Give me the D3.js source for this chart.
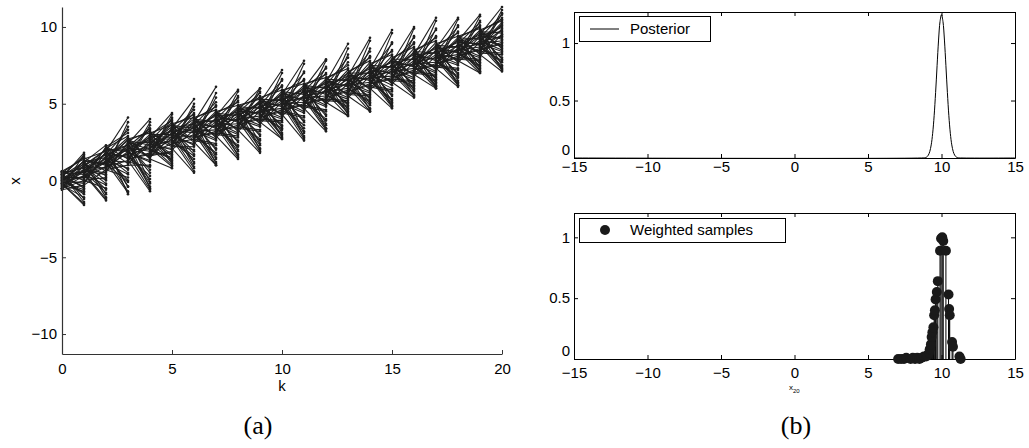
<!DOCTYPE html>
<html><head><meta charset="utf-8">
<script src="https://cdn.jsdelivr.net/npm/d3@7"></script>
<style>
body{margin:0;background:#fff}
svg{display:block}
text{font-family:"Liberation Sans",Arial,Helvetica,sans-serif;fill:#000}
</style>
</head><body>
<svg id="c" width="1029" height="448"></svg>
<script>
// ---------- Panel (a): particle trajectories ----------
const kTicks = [0, 5, 10, 15, 20];
const xTicksA = [-10, -5, 0, 5, 10];
// step s goes from k = s-1 to k = s  (s = 1..20)
const stepK = [1,2,3,4,5,6,7,8,9,10,11,12,13,14,15,16,17,18,19,20];
const startVals = [
 [0.2,0.5,-0.1,0.3,0.0,-0.3,0.4,0.1,-0.4,0.6,-0.2,0.2,-0.5,0.0,0.3,-0.1,0.1,-0.3,0.4,-0.2],
 [1.2,0.4,0.9,-0.2,0.6,1.0,0.1,0.8,0.3,1.3,0.5,-0.3,0.7,1.1,0.2,0.9,0.0,0.6,1.2,0.4],
 [1.9,1.0,2.2,1.5,0.6,1.7,1.2,2.0,0.8,1.4,1.8,0.9,2.1,1.3,1.6,0.7,1.1,1.9,1.5,2.3],
 [2.4,1.2,2.0,2.7,1.5,1.9,2.2,1.1,2.6,1.7,2.1,1.4,2.5,1.8,1.0,2.3,1.6,2.8,2.0,1.3],
 [2.8,1.6,2.3,3.1,1.9,2.5,2.1,3.0,1.5,2.7,2.2,1.8,2.9,2.4,1.7,2.6,2.0,3.2,2.3,1.4],
 [3.4,2.2,2.9,3.7,2.5,3.1,2.7,3.6,2.0,3.3,2.8,2.4,3.5,3.0,2.3,3.2,2.6,3.8,2.9,2.1],
 [3.8,2.6,3.3,4.1,2.9,3.5,3.1,4.0,2.4,3.7,3.2,2.8,3.9,3.4,2.7,3.6,3.0,4.2,3.3,2.5],
 [4.2,3.0,3.7,4.5,3.3,3.9,3.5,4.4,2.8,4.1,3.6,3.2,4.3,3.8,3.1,4.0,3.4,4.6,3.7,2.9],
 [4.6,3.4,4.1,4.9,3.7,4.3,3.9,4.8,3.2,4.5,4.0,3.6,4.7,4.2,3.5,4.4,3.8,5.0,4.1,3.3],
 [5.1,3.9,4.6,5.4,4.2,4.8,4.4,5.3,3.7,5.0,4.5,4.1,5.2,4.7,4.0,4.9,4.3,5.5,4.6,3.8],
 [5.6,4.4,5.1,5.9,4.7,5.3,4.9,5.8,4.2,5.5,5.0,4.6,5.7,5.2,4.5,5.4,4.8,6.0,5.1,4.3],
 [6.0,4.8,5.5,6.3,5.1,5.7,5.3,6.2,4.6,5.9,5.4,5.0,6.1,5.6,4.9,5.8,5.2,6.4,5.5,4.7],
 [6.4,5.2,5.9,6.7,5.5,6.1,5.7,6.6,5.0,6.3,5.8,5.4,6.5,6.0,5.3,6.2,5.6,6.8,5.9,5.1],
 [6.8,5.6,6.3,7.1,5.9,6.5,6.1,7.0,5.4,6.7,6.2,5.8,6.9,6.4,5.7,6.6,6.0,7.2,6.3,5.5],
 [7.3,6.1,6.8,7.6,6.4,7.0,6.6,7.5,5.9,7.2,6.7,6.3,7.4,6.9,6.2,7.1,6.5,7.7,6.8,6.0],
 [7.7,6.5,7.2,8.0,6.8,7.4,7.0,7.9,6.3,7.6,7.1,6.7,7.8,7.3,6.6,7.5,6.9,8.1,7.2,6.4],
 [8.2,7.0,7.7,8.5,7.3,7.9,7.5,8.4,6.8,8.1,7.6,7.2,8.3,7.8,7.1,8.0,7.4,8.6,7.7,6.9],
 [8.6,7.4,8.1,8.9,7.7,8.3,7.9,8.8,7.2,8.5,8.0,7.6,8.7,8.2,7.5,8.4,7.8,9.0,8.1,7.3],
 [9.1,7.9,8.6,9.4,8.2,8.8,8.4,9.3,7.7,9.0,8.5,8.1,9.2,8.7,8.0,8.9,8.3,9.5,8.6,7.8],
 [9.5,8.3,9.0,9.8,8.6,9.2,8.8,9.7,8.1,9.4,8.9,8.5,9.6,9.1,8.4,9.3,8.7,9.9,9.0,8.2]
];
const endVals = [
 [1.8,1.5,1.3,1.2,1.1,1.0,0.9,0.7,0.6,0.5,0.3,0.2,0.0,-0.2,-0.4,-0.6,-0.8,-1.1,-1.4,-1.6],
 [2.3,2.1,2.0,1.9,1.8,1.7,1.5,1.4,1.2,1.1,0.9,0.7,0.5,0.3,0.1,-0.2,-0.5,-0.8,-1.1,-1.3],
 [4.1,3.5,3.1,2.8,2.5,2.3,2.2,2.0,1.9,1.7,1.5,1.3,1.1,0.8,0.5,0.2,-0.1,-0.4,-0.7,-0.9],
 [4.0,3.6,3.3,3.1,2.9,2.7,2.6,2.4,2.3,2.1,1.9,1.7,1.5,1.3,1.0,0.7,0.3,-0.1,-0.4,-0.7],
 [4.4,4.1,3.8,3.6,3.4,3.3,3.1,3.0,2.9,2.7,2.6,2.4,2.2,2.0,1.8,1.6,1.4,1.2,1.0,0.8],
 [5.3,4.8,4.4,4.1,3.9,3.7,3.6,3.4,3.3,3.1,2.9,2.7,2.5,2.3,2.0,1.7,1.4,1.1,0.8,0.5],
 [6.1,5.4,4.9,4.6,4.4,4.2,4.0,3.8,3.7,3.5,3.3,3.1,2.9,2.7,2.4,2.1,1.8,1.5,1.2,1.0],
 [5.9,5.5,5.2,4.9,4.7,4.5,4.4,4.2,4.1,3.9,3.7,3.5,3.3,3.1,2.9,2.6,2.3,2.0,1.7,1.4],
 [6.0,5.8,5.5,5.3,5.1,5.0,4.8,4.7,4.5,4.4,4.2,4.0,3.8,3.6,3.3,3.0,2.7,2.4,2.1,1.8],
 [7.2,6.6,6.2,5.9,5.7,5.5,5.4,5.2,5.1,4.9,4.7,4.5,4.3,4.1,3.9,3.6,3.4,3.1,2.9,2.7],
 [7.8,7.1,6.6,6.3,6.1,5.9,5.8,5.6,5.5,5.3,5.1,4.9,4.7,4.5,4.2,3.9,3.6,3.2,2.9,2.6],
 [7.9,7.4,7.0,6.7,6.5,6.3,6.1,6.0,5.9,5.7,5.5,5.3,5.1,4.9,4.6,4.3,4.0,3.7,3.4,3.2],
 [8.9,8.2,7.7,7.3,7.0,6.8,6.6,6.5,6.3,6.2,6.0,5.8,5.6,5.4,5.2,5.0,4.8,4.6,4.4,4.2],
 [9.3,8.6,8.1,7.8,7.5,7.3,7.1,7.0,6.8,6.6,6.4,6.2,6.0,5.8,5.6,5.4,5.2,5.0,4.7,4.5],
 [9.8,9.0,8.5,8.2,7.9,7.7,7.5,7.4,7.2,7.0,6.8,6.6,6.4,6.2,5.9,5.6,5.3,5.1,4.9,4.7],
 [10.0,9.4,9.0,8.7,8.4,8.2,8.0,7.9,7.7,7.5,7.3,7.1,6.9,6.7,6.5,6.3,6.1,5.9,5.6,5.4],
 [10.6,9.9,9.4,9.1,8.8,8.6,8.4,8.3,8.1,7.9,7.7,7.5,7.3,7.1,6.9,6.7,6.5,6.3,6.1,6.0],
 [10.6,10.1,9.7,9.4,9.2,9.0,8.8,8.7,8.6,8.4,8.2,8.0,7.8,7.6,7.3,7.0,6.8,6.5,6.3,6.1],
 [10.8,10.4,10.1,9.9,9.7,9.5,9.4,9.2,9.0,8.9,8.7,8.5,8.3,8.1,7.9,7.7,7.5,7.3,7.1,7.0],
 [11.3,10.9,10.6,10.4,10.2,10.0,9.8,9.6,9.5,9.3,9.1,8.9,8.7,8.5,8.3,8.0,7.8,7.5,7.3,7.1]
];
const startVals2 = [
 [-0.5,0.3,0.6,-0.2,0.1,-0.6,0.5,-0.4,0.0,0.5,-0.5,0.2,0.6,-0.1,-0.6,0.4,-0.3,0.1,0.5,-0.2],
 [0.1,1.0,1.4,0.5,0.8,-0.1,1.2,0.3,0.7,1.3,0.2,0.9,1.5,0.6,0.0,1.1,0.4,0.8,1.3,0.5],
 [0.8,1.7,2.1,1.2,1.5,0.6,1.9,1.0,1.4,2.0,0.9,1.6,2.2,1.3,0.7,1.8,1.1,1.5,2.0,1.2],
 [1.3,2.2,2.6,1.7,2.0,1.1,2.4,1.5,1.9,2.5,1.4,2.1,2.7,1.8,1.2,2.3,1.6,2.0,2.5,1.7],
 [1.7,2.6,3.0,2.1,2.4,1.5,2.8,1.9,2.3,2.9,1.8,2.5,3.1,2.2,1.6,2.7,2.0,2.4,2.9,2.1],
 [2.3,3.2,3.6,2.7,3.0,2.1,3.4,2.5,2.9,3.5,2.4,3.1,3.7,2.8,2.2,3.3,2.6,3.0,3.5,2.7],
 [2.7,3.6,4.0,3.1,3.4,2.5,3.8,2.9,3.3,3.9,2.8,3.5,4.1,3.2,2.6,3.7,3.0,3.4,3.9,3.1],
 [3.1,4.0,4.4,3.5,3.8,2.9,4.2,3.3,3.7,4.3,3.2,3.9,4.5,3.6,3.0,4.1,3.4,3.8,4.3,3.5],
 [3.5,4.4,4.8,3.9,4.2,3.3,4.6,3.7,4.1,4.7,3.6,4.3,4.9,4.0,3.4,4.5,3.8,4.2,4.7,3.9],
 [4.0,4.9,5.3,4.4,4.7,3.8,5.1,4.2,4.6,5.2,4.1,4.8,5.4,4.5,3.9,5.0,4.3,4.7,5.2,4.4],
 [4.5,5.4,5.8,4.9,5.2,4.3,5.6,4.7,5.1,5.7,4.6,5.3,5.9,5.0,4.4,5.5,4.8,5.2,5.7,4.9],
 [4.9,5.8,6.2,5.3,5.6,4.7,6.0,5.1,5.5,6.1,5.0,5.7,6.3,5.4,4.8,5.9,5.2,5.6,6.1,5.3],
 [5.3,6.2,6.6,5.7,6.0,5.1,6.4,5.5,5.9,6.5,5.4,6.1,6.7,5.8,5.2,6.3,5.6,6.0,6.5,5.7],
 [5.7,6.6,7.0,6.1,6.4,5.5,6.8,5.9,6.3,6.9,5.8,6.5,7.1,6.2,5.6,6.7,6.0,6.4,6.9,6.1],
 [6.2,7.1,7.5,6.6,6.9,6.0,7.3,6.4,6.8,7.4,6.3,7.0,7.6,6.7,6.1,7.2,6.5,6.9,7.4,6.6],
 [6.6,7.5,7.9,7.0,7.3,6.4,7.7,6.8,7.2,7.8,6.7,7.4,8.0,7.1,6.5,7.6,6.9,7.3,7.8,7.0],
 [7.1,8.0,8.4,7.5,7.8,6.9,8.2,7.3,7.7,8.3,7.2,7.9,8.5,7.6,7.0,8.1,7.4,7.8,8.3,7.5],
 [7.5,8.4,8.8,7.9,8.2,7.3,8.6,7.7,8.1,8.7,7.6,8.3,8.9,8.0,7.4,8.5,7.8,8.2,8.7,7.9],
 [8.0,8.9,9.3,8.4,8.7,7.8,9.1,8.2,8.6,9.2,8.1,8.8,9.4,8.5,7.9,9.0,8.3,8.7,9.2,8.4],
 [8.4,9.3,9.7,8.8,9.1,8.2,9.5,8.6,9.0,9.6,8.5,9.2,9.8,8.9,8.3,9.4,8.7,9.1,9.6,8.8]
];
const endVals2 = [
 [1.7,1.6,1.4,1.3,1.1,1.0,0.8,0.7,0.6,0.4,0.3,0.1,0.0,-0.1,-0.3,-0.5,-0.7,-0.9,-1.2,-1.5],
 [2.2,2.0,1.9,1.8,1.7,1.6,1.5,1.3,1.2,1.0,0.9,0.8,0.6,0.4,0.2,0.0,-0.3,-0.6,-0.9,-1.2],
 [3.8,3.3,2.9,2.7,2.6,2.4,2.3,2.1,2.0,1.9,1.8,1.6,1.4,1.2,1.0,0.7,0.4,0.0,-0.4,-0.8],
 [3.8,3.4,3.2,3.0,2.8,2.6,2.5,2.4,2.2,2.0,1.8,1.6,1.4,1.2,0.9,0.5,0.1,-0.2,-0.5,-0.6],
 [4.3,4.0,3.9,3.7,3.5,3.4,3.2,3.1,3.0,2.8,2.7,2.5,2.3,2.1,1.9,1.7,1.5,1.3,1.1,0.9],
 [5.0,4.6,4.3,4.2,4.0,3.8,3.7,3.5,3.4,3.2,3.0,2.8,2.6,2.4,2.2,1.9,1.6,1.2,0.9,0.6],
 [5.7,5.1,4.8,4.5,4.3,4.1,3.9,3.8,3.6,3.4,3.2,3.0,2.8,2.6,2.3,2.0,1.7,1.4,1.1,1.0],
 [5.8,5.4,5.1,4.8,4.6,4.5,4.3,4.2,4.0,3.8,3.6,3.4,3.2,3.0,2.8,2.5,2.2,1.9,1.6,1.5],
 [6.0,5.7,5.4,5.2,5.1,4.9,4.8,4.6,4.5,4.3,4.1,3.9,3.7,3.5,3.2,2.9,2.6,2.3,2.0,1.9],
 [7.0,6.5,6.1,5.8,5.6,5.5,5.3,5.2,5.0,4.8,4.6,4.4,4.2,4.0,3.8,3.5,3.3,3.0,2.8,2.7],
 [7.6,7.0,6.5,6.2,6.0,5.9,5.7,5.5,5.4,5.2,5.0,4.8,4.6,4.4,4.1,3.8,3.4,3.1,2.8,2.7],
 [7.8,7.3,6.9,6.6,6.4,6.2,6.1,5.9,5.8,5.6,5.4,5.2,5.0,4.8,4.5,4.2,3.9,3.6,3.4,3.3],
 [8.6,8.0,7.5,7.2,7.0,6.8,6.6,6.4,6.3,6.1,5.9,5.7,5.5,5.3,5.1,4.9,4.7,4.5,4.3,4.2],
 [9.1,8.4,8.0,7.7,7.4,7.2,7.0,6.9,6.7,6.5,6.3,6.1,5.9,5.7,5.5,5.3,5.1,4.9,4.6,4.5],
 [9.6,8.9,8.4,8.1,7.8,7.6,7.4,7.3,7.1,6.9,6.7,6.5,6.3,6.0,5.8,5.5,5.2,5.0,4.8,4.8],
 [9.9,9.3,8.9,8.6,8.3,8.1,7.9,7.8,7.6,7.4,7.2,7.0,6.8,6.6,6.4,6.2,6.0,5.8,5.5,5.5],
 [10.4,9.8,9.3,9.0,8.7,8.5,8.3,8.2,8.0,7.8,7.6,7.4,7.2,7.0,6.8,6.6,6.4,6.2,6.1,6.0],
 [10.5,10.0,9.6,9.3,9.1,8.9,8.7,8.6,8.5,8.3,8.1,7.9,7.7,7.5,7.2,6.9,6.7,6.4,6.2,6.2],
 [10.7,10.3,10.0,9.8,9.6,9.4,9.3,9.1,8.9,8.8,8.6,8.4,8.2,8.0,7.8,7.6,7.4,7.2,7.1,7.0],
 [11.1,10.8,10.5,10.3,10.1,9.9,9.7,9.5,9.4,9.2,9.0,8.8,8.6,8.4,8.2,7.9,7.7,7.4,7.2,7.2]
];

// ---------- Panel (b): posterior and weighted samples ----------
const xTicksB = [-15, -10, -5, 0, 5, 10, 15];
const yTicksB = [0, 0.5, 1];
const postX = [-15, 8.8, 8.9, 9.0, 9.1, 9.2, 9.3, 9.4, 9.5, 9.6, 9.7, 9.8, 9.9, 10.0, 10.1, 10.2, 10.3, 10.4, 10.5, 10.6, 10.7, 10.8, 10.9, 11.0, 11.1, 11.2, 15];
const postY = [0, 0.001, 0.003, 0.009, 0.024, 0.055, 0.114, 0.215, 0.368, 0.571, 0.803, 1.026, 1.187, 1.247, 1.187, 1.026, 0.803, 0.571, 0.368, 0.215, 0.114, 0.055, 0.024, 0.009, 0.003, 0.001, 0];
const sampleX = [7.05, 7.25, 7.45, 7.6, 7.9, 8.05, 8.2, 8.35, 8.5, 8.65, 8.8, 8.95, 9.05, 9.15, 9.2, 9.28, 9.33, 9.38, 9.45, 9.5, 9.55, 9.6, 9.68, 9.75, 9.9, 9.97, 10.05, 10.12, 10.3, 10.48, 10.52, 10.56, 10.72, 10.78, 11.22, 11.3];
const sampleW = [0.0, 0.0, 0.0, 0.01, 0.0, 0.01, 0.0, 0.01, 0.0, 0.01, 0.02, 0.02, 0.03, 0.05, 0.08, 0.12, 0.18, 0.22, 0.26, 0.36, 0.4, 0.49, 0.55, 0.64, 0.89, 0.99, 1.0, 0.97, 0.89, 0.53, 0.41, 0.36, 0.14, 0.1, 0.02, 0.0];

const svg = d3.select("#c");
const tickFont = "15px";

// ===== Panel (a) =====
const xA = d3.scaleLinear().domain([0, 20]).range([62, 502]);
const yA = d3.scaleLinear().domain([-11.3, 11.3]).range([354, 7]);
const gA = svg.append("g");

const segs = [];
stepK.forEach((k, si) => {
  startVals[si].forEach((s, i) => segs.push({k0: k - 1, k1: k, s: s, e: endVals[si][i]}));
  startVals2[si].forEach((s, i) => segs.push({k0: k - 1, k1: k, s: s, e: endVals2[si][i]}));
});
gA.append("g").selectAll("line").data(segs).join("line")
  .attr("x1", d => xA(d.k0)).attr("y1", d => yA(d.s))
  .attr("x2", d => xA(d.k1)).attr("y2", d => yA(d.e))
  .attr("stroke", "#1e1e1e").attr("stroke-width", 1.1);
gA.append("g").selectAll("circle").data(segs).join("circle")
  .attr("cx", d => xA(d.k1)).attr("cy", d => yA(d.e)).attr("r", 1.3).attr("fill", "#1e1e1e");
gA.append("g").selectAll("circle").data(startVals[0].concat(startVals2[0])).join("circle")
  .attr("cx", xA(0)).attr("cy", d => yA(d)).attr("r", 1.3).attr("fill", "#1e1e1e");

const axA_x = gA.append("g").attr("transform", `translate(0,354)`)
  .call(d3.axisBottom(xA).tickValues(kTicks).tickFormat(d3.format("d")).tickSizeInner(-4).tickSizeOuter(0).tickPadding(9));
const axA_y = gA.append("g").attr("transform", `translate(62,0)`)
  .call(d3.axisLeft(yA).tickValues(xTicksA).tickFormat(d3.format("d")).tickSizeInner(-4).tickSizeOuter(0).tickPadding(5));
[axA_x, axA_y].forEach(a => {
  a.selectAll("path").attr("stroke", "#333").attr("stroke-width", 1.2);
  a.selectAll("line").attr("stroke", "#333");
  a.selectAll("text").attr("font-size", tickFont).attr("font-family", "Liberation Sans, Arial, sans-serif").attr("fill", "#000");
});
gA.append("text").attr("x", xA(10)).attr("y", 391).attr("text-anchor", "middle").attr("font-size", "15px").text("k");
gA.append("text").attr("transform", "translate(20,181) rotate(-90)").attr("text-anchor", "middle").attr("font-size", "15px").text("x");
svg.append("text").attr("x", 258).attr("y", 434).attr("text-anchor", "middle")
  .style("font-family", "'Liberation Serif','Times New Roman',serif").attr("font-size", "26px").text("(a)");

// ===== Panel (b) =====
function boxPanel(top, bottom, yMax, labelPad) {
  const x = d3.scaleLinear().domain([-15, 15]).range([574, 1015]);
  const y = d3.scaleLinear().domain([0, yMax]).range([bottom, top]);
  const g = svg.append("g");
  const axes = [];
  axes.push(g.append("g").attr("transform", `translate(0,${bottom})`)
    .call(d3.axisBottom(x).tickValues(xTicksB).tickFormat(d3.format("d")).tickSizeInner(-4).tickSizeOuter(0).tickPadding(labelPad)));
  axes.push(g.append("g").attr("transform", `translate(0,${top})`)
    .call(d3.axisTop(x).tickValues(xTicksB).tickFormat("").tickSizeInner(-4).tickSizeOuter(0)));
  axes.push(g.append("g").attr("transform", `translate(574,0)`)
    .call(d3.axisLeft(y).tickValues(yTicksB).tickFormat(d => d === 0 ? "0" : d3.format("~g")(d)).tickSizeInner(-4).tickSizeOuter(0).tickPadding(4)));
  axes.push(g.append("g").attr("transform", `translate(1015,0)`)
    .call(d3.axisRight(y).tickValues(yTicksB).tickFormat("").tickSizeInner(-4).tickSizeOuter(0)));
  axes.forEach(a => {
    a.selectAll("path").attr("stroke", "#000").attr("stroke-width", 1);
    a.selectAll("line").attr("stroke", "#000");
    a.selectAll("text").attr("font-size", tickFont).attr("font-family", "Liberation Sans, Arial, sans-serif").attr("fill", "#000");
  });
  // the "0" y label sits just above the corner, as in the reference
  axes[2].selectAll(".tick text").filter(d => d === 0).attr("dy", "-0.22em");
  return {x, y, g};
}

// top: posterior
const P1 = boxPanel(12, 158, 1.27, 3.5);
const postData = postX.map((v, i) => [v, postY[i]]);
P1.g.append("path").datum(postData)
  .attr("d", d3.line().x(d => P1.x(d[0])).y(d => P1.y(d[1])).curve(d3.curveCatmullRom))
  .attr("fill", "none").attr("stroke", "#000").attr("stroke-width", 1);
P1.g.append("rect").attr("x", 579.5).attr("y", 16.5).attr("width", 131).attr("height", 25)
  .attr("fill", "#fff").attr("stroke", "#000").attr("stroke-width", 1);
P1.g.append("line").attr("x1", 590).attr("x2", 619).attr("y1", 29).attr("y2", 29).attr("stroke", "#000");
P1.g.append("text").attr("x", 630).attr("y", 29).attr("dy", "0.36em").attr("font-size", "15px").text("Posterior");

// bottom: weighted samples (stem plot)
const P2 = boxPanel(213, 359, 1.2, 8);
const samples = sampleX.map((v, i) => ({x: v, w: sampleW[i]}));
P2.g.append("g").selectAll("line").data(samples).join("line")
  .attr("x1", d => P2.x(d.x)).attr("x2", d => P2.x(d.x))
  .attr("y1", P2.y(0)).attr("y2", d => P2.y(d.w))
  .attr("stroke", "#000").attr("stroke-width", 1);
P2.g.append("g").selectAll("circle").data(samples).join("circle")
  .attr("cx", d => P2.x(d.x)).attr("cy", d => P2.y(d.w)).attr("r", 5)
  .attr("fill", "#1a1a1a");
P2.g.append("rect").attr("x", 579.5).attr("y", 218.5).attr("width", 206).attr("height", 24)
  .attr("fill", "#fff").attr("stroke", "#000").attr("stroke-width", 1);
P2.g.append("circle").attr("cx", 605).attr("cy", 230).attr("r", 5).attr("fill", "#1a1a1a");
P2.g.append("text").attr("x", 630).attr("y", 230).attr("dy", "0.36em").attr("font-size", "15px").text("Weighted samples");
const xl = P2.g.append("text").attr("x", 789).attr("y", 390).attr("font-size", "8px");
xl.append("tspan").text("x");
xl.append("tspan").attr("dy", 3).attr("font-size", "6px").text("20");

svg.append("text").attr("x", 796).attr("y", 434).attr("text-anchor", "middle")
  .style("font-family", "'Liberation Serif','Times New Roman',serif").attr("font-size", "26px").text("(b)");
</script>
</body></html>
